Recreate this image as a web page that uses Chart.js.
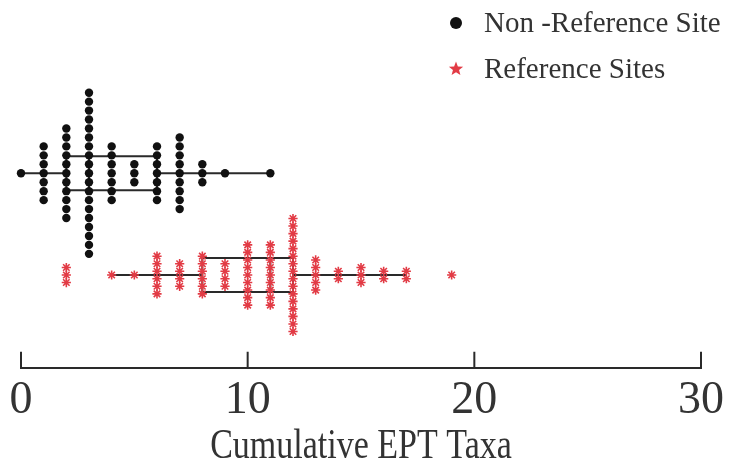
<!DOCTYPE html>
<html>
<head>
<meta charset="utf-8">
<script src="https://cdn.jsdelivr.net/npm/chart.js@4"></script>
<style>
  html, body { margin: 0; padding: 0; background: #fff; }
</style>
</head>
<body>
<canvas id="chart" width="730" height="471"></canvas>
<script>
// EPT taxa values and how many sites share each value
const nonRefTaxa = [0, 1, 2, 3, 4, 5, 6, 7, 8, 9, 11];
const nonRefCounts = [1, 7, 11, 19, 7, 3, 7, 9, 3, 1, 1];
const refTaxa = [2, 4, 5, 6, 7, 8, 9, 10, 11, 12, 13, 14, 15, 16, 17, 19];
const refCounts = [3, 1, 1, 6, 4, 6, 4, 9, 9, 16, 5, 2, 3, 2, 2, 1];

// box plot stats: whisker low, q1, median, q3, whisker high
const nonRefBox = [0, 2, 3, 6, 11];
const refBox = [4, 8, 11, 12, 17];

const xTicks = [0, 10, 20, 30];
const seriesNames = ['Non -Reference Site', 'Reference Sites'];
const axisTitle = 'Cumulative EPT Taxa';

// row of each group on the hidden y scale
const nonRefRow = 2;
const refRow = 1;
const redColor = '#e23b45';
const serif = '"Liberation Serif", "DejaVu Serif", serif';

// stack repeated values vertically around the row (dot plot)
function swarm(taxa, counts, row, step) {
    const pts = [];
    taxa.forEach((x, i) => {
        const n = counts[i];
        for (let k = 0; k < n; k++) {
            pts.push({ x: x, y: row + (k - (n - 1) / 2) * step });
        }
    });
    return pts;
}

const boxPlots = {
    id: 'boxPlots',
    beforeDatasetsDraw(chart) {
        const { ctx, scales: { x, y } } = chart;
        const halfH = 17;
        const drawBox = (stats, row) => {
            const cy = y.getPixelForValue(row);
            const [lo, q1, med, q3, hi] = stats.map(v => x.getPixelForValue(v));
            ctx.save();
            ctx.strokeStyle = '#2a2a2a';
            ctx.lineWidth = 2;
            ctx.beginPath();
            ctx.moveTo(lo, cy); ctx.lineTo(q1, cy);
            ctx.moveTo(q3, cy); ctx.lineTo(hi, cy);
            ctx.rect(q1, cy - halfH, q3 - q1, halfH * 2);
            ctx.moveTo(med, cy - halfH); ctx.lineTo(med, cy + halfH);
            ctx.stroke();
            ctx.restore();
        };
        drawBox(nonRefBox, nonRefRow);
        drawBox(refBox, refRow);
    },
    afterDraw(chart) {
        const { ctx, chartArea, scales: { x } } = chart;
        // tick marks pointing up into the plot
        ctx.save();
        ctx.strokeStyle = '#2a2a2a';
        ctx.lineWidth = 2;
        ctx.beginPath();
        xTicks.forEach(v => {
            const px = x.getPixelForValue(v);
            ctx.moveTo(px, chartArea.bottom);
            ctx.lineTo(px, chartArea.bottom - 16);
        });
        ctx.stroke();

        // axis title, a little taller than the font
        ctx.fillStyle = '#333';
        ctx.font = '34px ' + serif;
        ctx.textAlign = 'center';
        ctx.textBaseline = 'alphabetic';
        ctx.save();
        ctx.translate((chartArea.left + chartArea.right) / 2, 458);
        ctx.scale(1, 1.22);
        ctx.fillText(axisTitle, 0, 0);
        ctx.restore();

        // legend
        ctx.font = '29px ' + serif;
        ctx.textAlign = 'left';
        ctx.textBaseline = 'middle';
        ctx.fillText(seriesNames[0], 484, 24);
        ctx.fillText(seriesNames[1], 484, 70);

        ctx.fillStyle = '#111';
        ctx.beginPath();
        ctx.arc(456, 23, 6, 0, Math.PI * 2);
        ctx.fill();

        ctx.fillStyle = redColor;
        ctx.beginPath();
        const cx = 456, cy = 69, ro = 7.5, ri = 3.2;
        for (let i = 0; i < 10; i++) {
            const r = i % 2 === 0 ? ro : ri;
            const a = -Math.PI / 2 + i * Math.PI / 5;
            ctx.lineTo(cx + r * Math.cos(a), cy + r * Math.sin(a));
        }
        ctx.closePath();
        ctx.fill();
        ctx.restore();
    }
};

new Chart(document.getElementById('chart'), {
    type: 'scatter',
    data: {
        datasets: [{
            label: seriesNames[0],
            data: swarm(nonRefTaxa, nonRefCounts, nonRefRow, 0.088),
            pointStyle: 'circle',
            pointRadius: 4.2,
            backgroundColor: '#111',
            borderColor: '#111',
            borderWidth: 0,
            clip: false
        }, {
            label: seriesNames[1],
            data: swarm(refTaxa, refCounts, refRow, 0.074),
            pointStyle: 'star',
            pointRadius: 4.6,
            backgroundColor: redColor,
            borderColor: redColor,
            borderWidth: 1.6,
            clip: false
        }]
    },
    options: {
        responsive: false,
        animation: false,
        layout: { padding: { left: 21, right: 22, top: 0, bottom: 36 } },
        plugins: {
            legend: { display: false },
            tooltip: { enabled: false }
        },
        scales: {
            x: {
                type: 'linear',
                min: 0,
                max: 30,
                afterBuildTicks: axis => { axis.ticks = xTicks.map(v => ({ value: v })); },
                grid: { display: false, drawTicks: false },
                border: { display: true, color: '#2a2a2a', width: 2 },
                ticks: {
                    color: '#333',
                    padding: 6,
                    font: { family: serif, size: 46 }
                },
                title: { display: false }
            },
            y: {
                type: 'linear',
                display: false,
                min: 0.088,
                max: 3.642
            }
        }
    },
    plugins: [boxPlots]
});
</script>
</body>
</html>
